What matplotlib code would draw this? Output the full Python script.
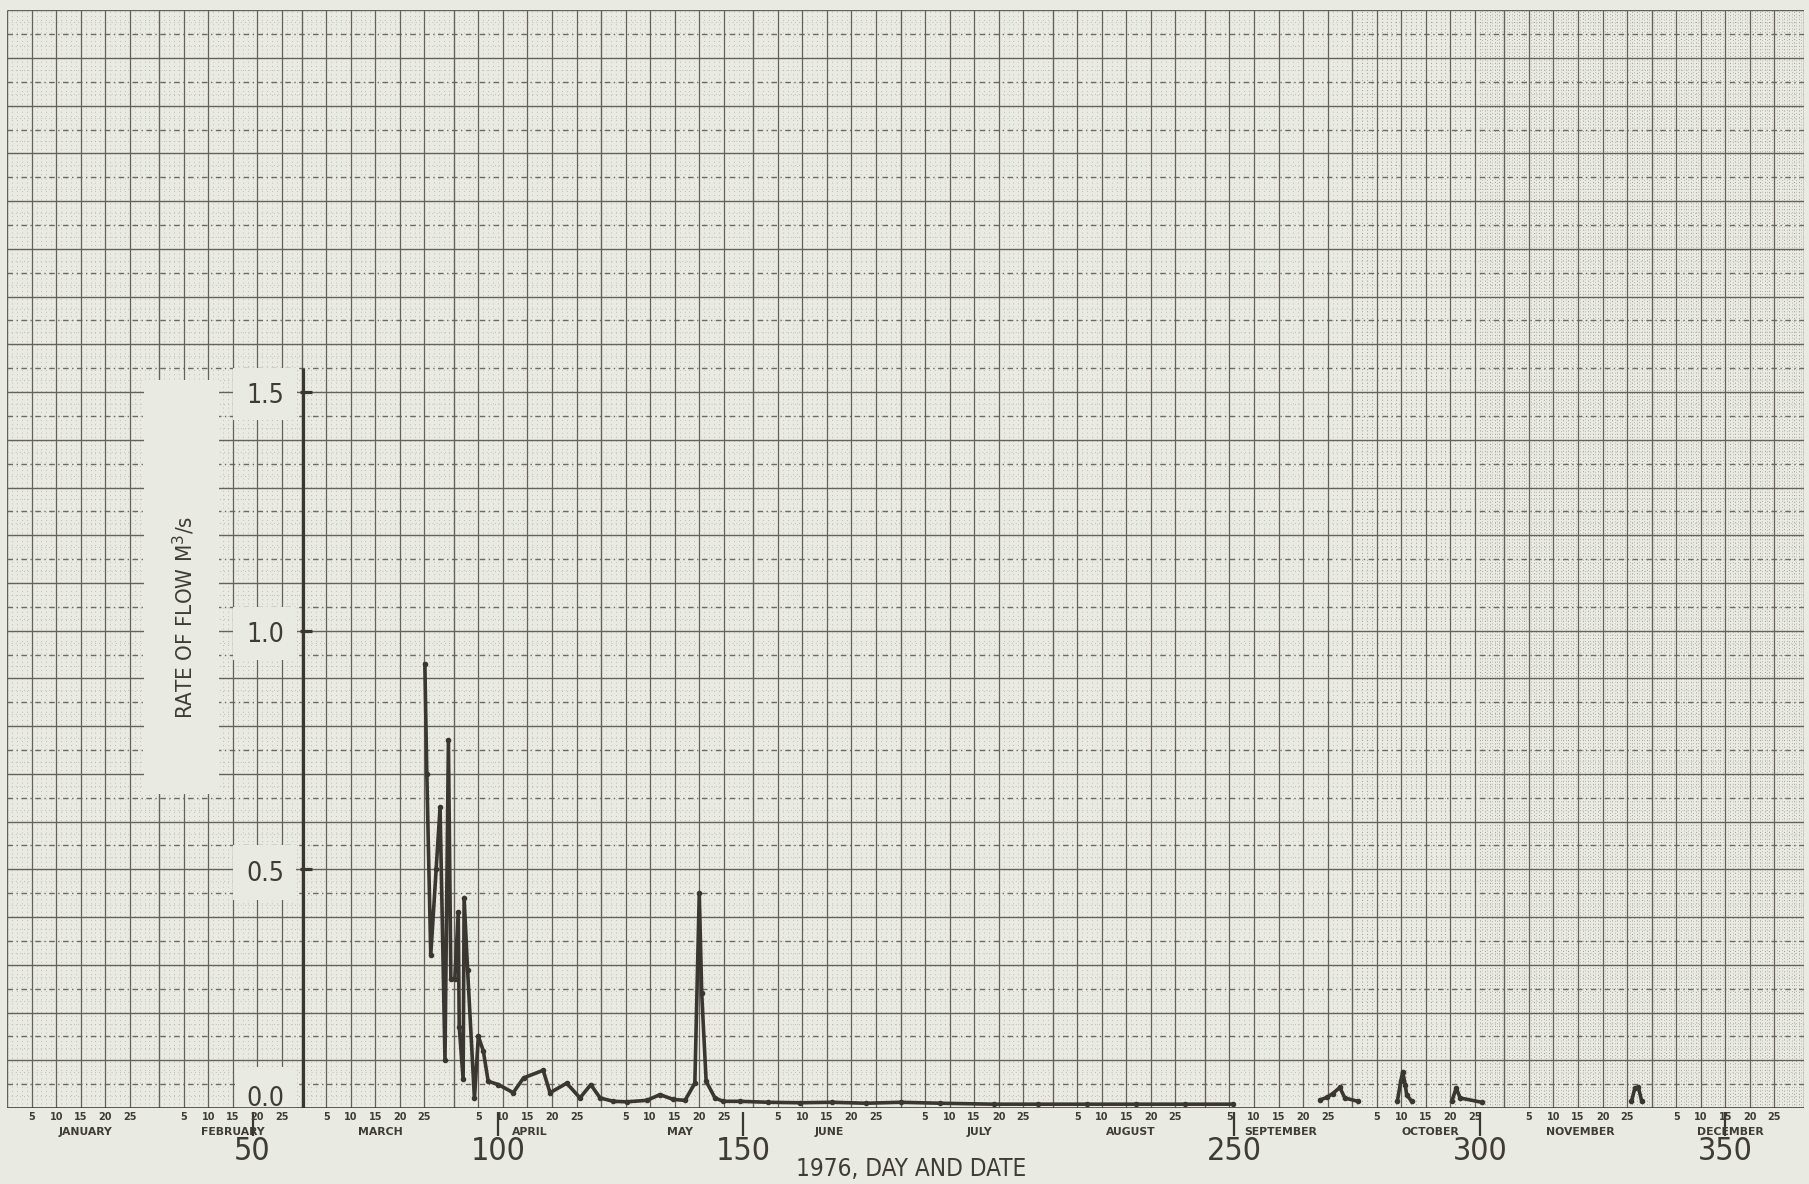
import matplotlib
matplotlib.use("Agg")
import matplotlib.pyplot as plt
from matplotlib import font_manager
from matplotlib.font_manager import FontProperties
from matplotlib.patches import Rectangle

W, H = 1809, 1184

# look for a narrow face, the sheet was lettered with a condensed type
_narrow = None
for f in font_manager.fontManager.ttflist:
    st = str(f.stretch).lower()
    if "narrow" in f.name.lower() or "condensed" in f.name.lower() or "condensed" in st:
        if f.weight in (400, "normal", "regular") and f.style == "normal":
            _narrow = f.fname
            break

def narrow(size):
    if _narrow:
        return FontProperties(fname=_narrow, size=size)
    return FontProperties(family=["Liberation Sans", "DejaVu Sans"], size=size)

PAPER = "#e9eae2"
INK = "#3a3631"
GRID = "#65615b"
DOTS = "#b3b0a9"
TEXT = "#3f3b36"

# --- data (day of year 1976, flow in m3/s) ---
spring_days = [85.1, 85.5, 86.3, 87.4, 88.2, 89.2, 89.9, 90.4, 91.2, 91.9,
               92.1, 92.9, 93.1, 93.8, 95.2, 96.0, 97.0, 98.0, 100.1, 103.1,
               105.2, 109.2, 110.6, 114.0, 116.7, 118.9, 120.8, 123.5, 126.2, 130.3,
               133.0, 135.7, 138.1, 140.1, 141.0, 141.5, 142.4, 144.2, 145.9, 149.3,
               155.0, 161.5, 168.0, 175.0, 182.0, 190.0, 201.0, 210.0, 220.0, 230.0,
               240.0, 249.7]
spring_flow = [0.93, 0.70, 0.32, 0.50, 0.63, 0.10, 0.77, 0.27, 0.27, 0.41,
               0.17, 0.06, 0.44, 0.29, 0.02, 0.15, 0.12, 0.056, 0.049, 0.032,
               0.063, 0.079, 0.032, 0.052, 0.021, 0.049, 0.021, 0.014, 0.013, 0.016,
               0.028, 0.018, 0.016, 0.052, 0.45, 0.24, 0.056, 0.021, 0.014, 0.014,
               0.012, 0.011, 0.012, 0.010, 0.012, 0.010, 0.008, 0.008, 0.008, 0.008,
               0.008, 0.008]
sep_days = [267.5, 268.8, 270.0, 271.5, 272.5, 275.2]
sep_flow = [0.017, 0.022, 0.030, 0.043, 0.021, 0.014]
oct_a_days = [283.2, 283.9, 284.3, 284.8, 285.1, 286.1]
oct_a_flow = [0.014, 0.056, 0.076, 0.049, 0.028, 0.014]
oct_b_days = [294.3, 295.2, 296.0, 300.4]
oct_b_flow = [0.014, 0.042, 0.021, 0.012]
nov_days = [330.9, 331.6, 332.3, 333.0]
nov_flow = [0.014, 0.042, 0.043, 0.014]

months = ["JANUARY", "FEBRUARY", "MARCH", "APRIL", "MAY", "JUNE", "JULY",
          "AUGUST", "SEPTEMBER", "OCTOBER", "NOVEMBER", "DECEMBER"]
month_starts = [0, 31, 60, 91, 121, 152, 182, 213, 244, 274, 305, 335, 366]
month_marks = [5, 10, 15, 20, 25]
day_ticks = [50, 100, 150, 250, 300, 350]
flow_ticks = [0.0, 0.5, 1.0, 1.5]

# --- layout, in pixels of the original sheet ---
X0, PX_DAY = 7.1, 4.909
Y0, PX_UNIT = 1108.0, 477.3
YMAX = 2.3
AX_H = YMAX * PX_UNIT

def below(py):
    return (Y0 - py) / AX_H

fig = plt.figure(figsize=(W / 100, H / 100), dpi=100, facecolor=PAPER)
ax = fig.add_axes([X0 / W, (H - Y0) / H, 366 * PX_DAY / W, AX_H / H])
ax.set_facecolor(PAPER)
ax.set_xlim(0, 366)
ax.set_ylim(0, YMAX)
ax.axis("off")

# graph paper
all_days = range(0, 367)
ax.vlines([d for d in all_days if d < 274], 0, YMAX, colors=DOTS, lw=0.6,
          linestyles=(0, (1, 4)), zorder=0)
ax.vlines([d for d in all_days if d >= 274], 0, YMAX, colors="#9e9a94", lw=0.7,
          linestyles=(0, (1, 2.5)), zorder=0)
ax.vlines([d + 0.5 for d in range(300, 366)], 0, YMAX, colors="#aaa7a0", lw=0.6,
          linestyles=(0, (1, 2.5)), zorder=0)
ax.hlines([i * 0.05 + 0.025 for i in range(46)], 0, 366, colors=DOTS, lw=0.6,
          linestyles=(0, (1, 4)), zorder=0)
ax.hlines([i * 0.1 + 0.05 for i in range(23)], 0, 366, colors="#6d6963", lw=1.0,
          linestyles=(0, (4, 2.5, 1, 2.5)), zorder=1)
ax.hlines([i * 0.1 for i in range(24)], 0, 366, colors=GRID, lw=1.0, zorder=1)
five_day = [s + m for s in month_starts[:-1] for m in month_marks]
ax.vlines(five_day, 0, YMAX, colors=GRID, lw=0.9, zorder=1)
ax.vlines(month_starts, 0, YMAX, colors=GRID, lw=1.0, zorder=1)

# pasted label blanks
boxes = [(144, 380, 219, 794), (233, 368, 297, 420), (233, 607, 297, 660),
         (233, 845, 296, 900), (235, 1067, 297, 1108)]
for x1, y1, x2, y2 in boxes:
    ax.add_patch(Rectangle((x1 / W, 1 - y2 / H), (x2 - x1) / W, (y2 - y1) / H,
                           transform=fig.transFigure, facecolor=PAPER,
                           edgecolor="none", zorder=2))

# axes drawn on the sheet
y_axis_day = (303 - X0) / PX_DAY
ax.vlines(y_axis_day, 0, 1.55, colors=INK, lw=2.3, zorder=3)
ax.hlines(flow_ticks[1:], y_axis_day - 0.7, y_axis_day + 1.9, colors=INK, lw=2.3, zorder=3)
ax.hlines(0, 0, 366, colors=INK, lw=1.8, zorder=3)

for v in flow_ticks:
    yv = 0.019 if v == 0 else v - 0.009
    ax.text((265 - X0) / PX_DAY, yv, f"{v:.1f}", ha="center", va="center",
            fontproperties=narrow(19), color=TEXT, zorder=4)

ax.text((184 - X0) / PX_DAY, (Y0 - 617) / PX_UNIT, "RATE OF FLOW M$^{3}$/s",
        rotation=90, ha="center", va="center", fontproperties=narrow(16),
        color=TEXT, zorder=4)

# flow record
for xs, ys in [(spring_days, spring_flow), (sep_days, sep_flow),
               (oct_a_days, oct_a_flow), (oct_b_days, oct_b_flow),
               (nov_days, nov_flow)]:
    ax.plot(xs, ys, color=INK, lw=2.6, marker="o", ms=3.0, zorder=5,
            clip_on=False)

# calendar scale below the sheet
tr = ax.get_xaxis_transform()
for i, name in enumerate(months):
    start, end = month_starts[i], month_starts[i + 1]
    for m in month_marks:
        ax.text(start + m, below(1117), str(m), transform=tr, ha="center",
                va="center", fontsize=7, fontweight="bold", color=TEXT,
                clip_on=False)
    ax.text((start + end) / 2 + 0.5, below(1132), name, transform=tr, ha="center",
            va="center", fontsize=7.8, fontweight="bold", color=TEXT,
            clip_on=False)

ax.vlines(day_ticks, below(1112), below(1136), transform=tr, colors=INK,
          lw=1.6, clip_on=False)
for d in day_ticks:
    ax.text(d, below(1152), str(d), transform=tr, ha="center", va="center",
            fontproperties=narrow(23), color=TEXT, clip_on=False)

ax.text((911 - X0) / PX_DAY, below(1169), "1976, DAY AND DATE", transform=tr,
        ha="center", va="center", fontproperties=narrow(17.5), color=TEXT,
        clip_on=False)

fig.savefig("out.png", dpi=100, facecolor=PAPER)
